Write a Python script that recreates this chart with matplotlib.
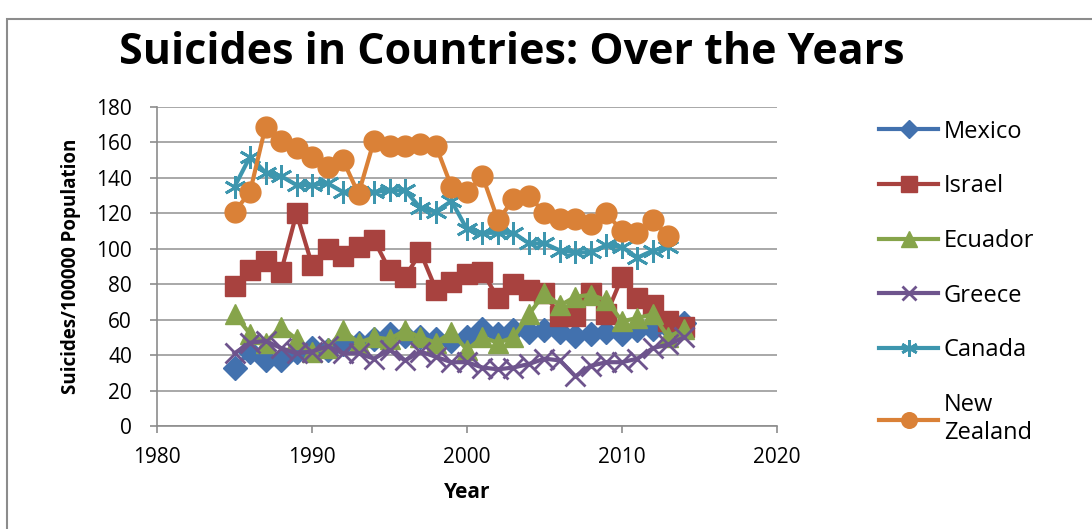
import matplotlib.pyplot as plt
from matplotlib.patches import Rectangle

years = list(range(1985, 2015))

mexico = [33, 42, 37, 37, 42, 44, 43, 46, 47, 49, 52, 51, 50, 49, 48,
          50, 55, 52, 54, 53, 54, 53, 51, 52, 53, 52, 54, 55, 56, 58]
israel = [79, 88, 93, 87, 120, 91, 100, 96, 101, 105, 88, 84, 98, 77, 81,
          86, 87, 72, 80, 77, 75, 62, 62, 75, 63, 84, 72, 68, 59, 56]
ecuador = [63, 52, 47, 56, 49, 42, 44, 54, 47, 50, 49, 54, 50, 47, 53,
           43, 50, 47, 50, 63, 75, 68, 73, 74, 71, 59, 61, 63, 50, 55]
greece = [41, 47, 48, 44, 41, 42, 45, 41, 41, 38, 43, 37, 42, 39, 36,
          36, 33, 32, 33, 35, 38, 37, 28, 34, 36, 36, 38, 44, 46, 50]
# Canada and New Zealand end in 2013
canada = [135, 152, 143, 141, 136, 136, 137, 132, 132, 132, 133, 133, 123, 121, 127,
          111, 109, 109, 109, 103, 103, 99, 98, 98, 102, 101, 95, 99, 101]
new_zealand = [121, 132, 169, 161, 157, 152, 146, 150, 131, 161, 158, 158, 159, 158, 135,
               132, 141, 116, 128, 130, 120, 117, 117, 114, 120, 110, 109, 116, 107]

series = [
    ('Mexico', mexico, '#4271AE', 'D', 12),
    ('Israel', israel, '#A8423F', 's', 15),
    ('Ecuador', ecuador, '#86A44A', '^', 15),
    ('Greece', greece, '#6E548D', 'x', 14),
    ('Canada', canada, '#3D96AE', (6, 2, 0), 16),
    ('New\nZealand', new_zealand, '#DA8137', 'o', 15),
]

plt.rcParams['font.family'] = ['Open Sans', 'DejaVu Sans']

fig = plt.figure(figsize=(10.92, 5.29), dpi=100)
ax = fig.add_axes([0.1438, 0.1947, 0.5677, 0.603])

for name, vals, color, marker, ms in series:
    ax.plot(years[:len(vals)], vals, color=color, marker=marker, markersize=ms,
            linewidth=3, markeredgewidth=2 if marker in ('x', (6, 2, 0)) else 1,
            markeredgecolor=color, label=name)

ax.set_xlim(1980, 2020)
ax.set_ylim(0, 180)
ax.set_xticks(range(1980, 2021, 10))
ax.set_yticks(range(0, 181, 20))
ax.grid(axis='y', color='#9a9a9a', linewidth=1.2)
ax.set_axisbelow(True)
for side in ('top', 'right'):
    ax.spines[side].set_visible(False)
for side in ('left', 'bottom'):
    ax.spines[side].set_color('#8c8c8c')
    ax.spines[side].set_linewidth(1.2)
ax.tick_params(axis='both', labelsize=15, color='#8c8c8c', length=5, width=1.2)
ax.tick_params(axis='x', pad=10)
ax.tick_params(axis='y', pad=13)

ax.set_xlabel('Year', fontsize=15, fontweight='bold', labelpad=10)
ax.set_ylabel('Suicides/100000 Population', fontsize=13.5, fontweight='bold', labelpad=11)

fig.text(0.469, 0.9, 'Suicides in Countries: Over the Years', ha='center', va='center',
         fontsize=31, fontweight='bold')

fig.legend(loc='upper left', bbox_to_anchor=(0.805, 0.774), frameon=False, fontsize=17,
           handlelength=2.5, handletextpad=0.25, labelspacing=1.3, borderpad=0,
           borderaxespad=0, markerscale=0.75)

fig.patches.append(Rectangle((0.006, -0.05), 1.1, 1.015, transform=fig.transFigure,
                             fill=False, edgecolor='#8c8c8c', linewidth=1.5))

fig.savefig('out.png', dpi=100)
